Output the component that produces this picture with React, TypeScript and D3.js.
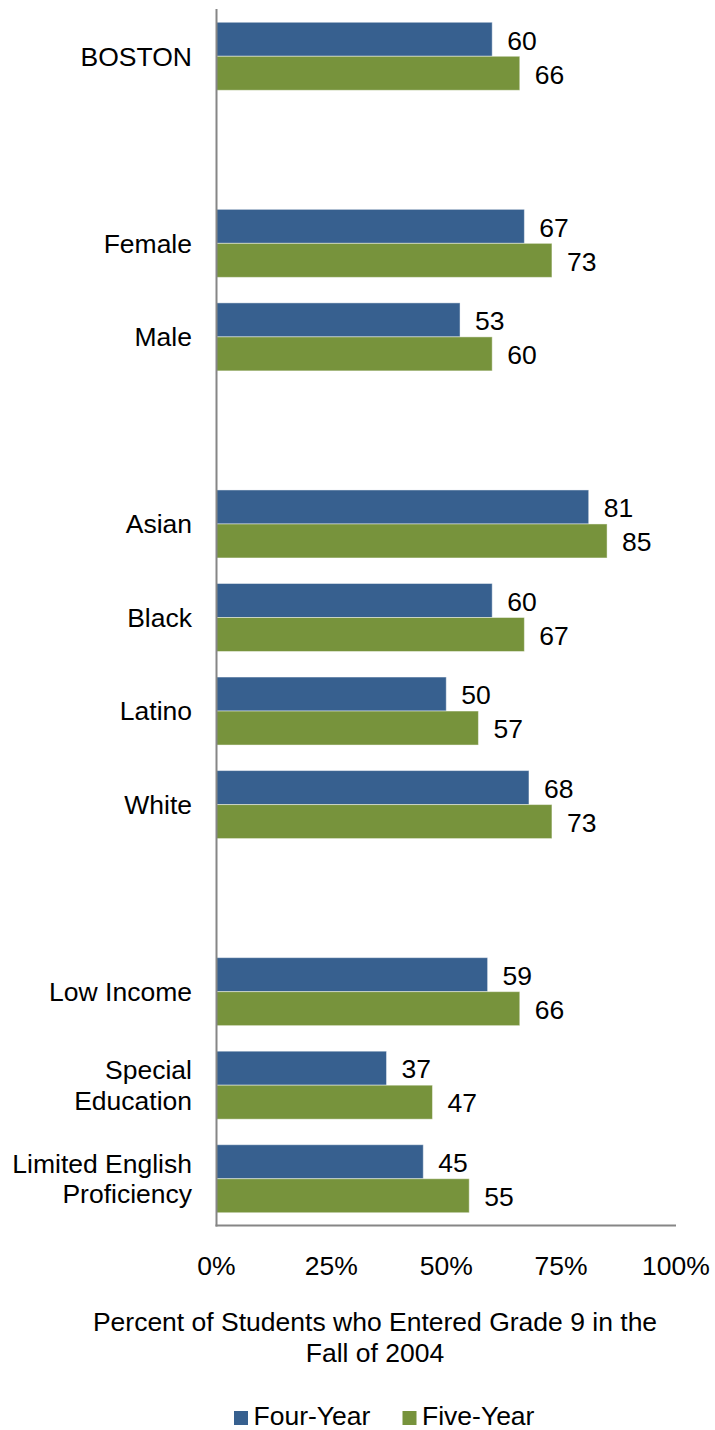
import React from "react";
import * as d3 from "d3";

const categories = [
  "BOSTON",
  "Female",
  "Male",
  "Asian",
  "Black",
  "Latino",
  "White",
  "Low Income",
  "Special\nEducation",
  "Limited English\nProficiency",
];
// group index for each category (blank slot between groups)
const groupOf = [0, 1, 1, 2, 2, 2, 2, 3, 3, 3];
const fourYear = [60, 67, 53, 81, 60, 50, 68, 59, 37, 45];
const fiveYear = [66, 73, 60, 85, 67, 57, 73, 66, 47, 55];
const seriesNames = ["Four-Year", "Five-Year"];
const seriesColors = ["#37608f", "#77933c"];
const xTicks = [0, 25, 50, 75, 100];
const axisTitle = ["Percent of Students who Entered Grade 9 in the", "Fall of 2004"];

const W = 715;
const H = 1430;
const FONT = "'Liberation Sans', Arial, Helvetica, sans-serif";
const FS = 26.5;

export default function App() {
  const left = 216.5;
  const right = 676;
  const top = 9.5;
  const bottom = 1225.5;

  const slots = categories.map((_, i) => i + groupOf[i]);
  const nSlots = d3.max(slots)! + 1;

  const x = d3.scaleLinear().domain([0, 100]).range([left, right]);
  const y = d3
    .scaleBand<number>()
    .domain(d3.range(nSlots))
    .range([top, bottom])
    .paddingInner(0)
    .paddingOuter(0);
  const bw = y.bandwidth();
  const barH = 34;
  const sub = d3
    .scaleBand<number>()
    .domain([0, 1])
    .range([bw / 2 - barH, bw / 2 + barH])
    .padding(0);

  const series = [fourYear, fiveYear];

  return (
    <div style={{ position: "absolute", left: 0, top: 0 }}>
      <svg width={W} height={H} style={{ display: "block", fontFamily: FONT }}>
        <rect x={0} y={0} width={W} height={H} fill="#ffffff" />
        {categories.map((cat, i) => {
          const y0 = y(slots[i])!;
          const lines = cat.split("\n");
          const lh = 30.5;
          const cy = y0 + bw / 2;
          return (
            <g key={cat}>
              {series.map((vals, s) => (
                <g key={s}>
                  <rect
                    x={x(0)}
                    y={y0 + sub(s)!}
                    width={x(vals[i]) - x(0)}
                    height={sub.bandwidth()}
                    fill={seriesColors[s]}
                    stroke="#ffffff"
                    strokeOpacity={0.45}
                    strokeWidth={1}
                  />
                  <text
                    x={x(vals[i]) + 15}
                    y={y0 + sub(s)! + sub.bandwidth() / 2 + 1}
                    dy="0.35em"
                    fontSize={FS}
                    fill="#000"
                  >
                    {vals[i]}
                  </text>
                </g>
              ))}
              <text textAnchor="end" fontSize={FS} fill="#000">
                {lines.map((ln, k) => (
                  <tspan
                    key={k}
                    x={192}
                    y={cy + (k - (lines.length - 1) / 2) * lh}
                    dy="0.35em"
                  >
                    {ln}
                  </tspan>
                ))}
              </text>
            </g>
          );
        })}
        {/* axes */}
        <line x1={left} x2={left} y1={top - 0.5} y2={bottom + 1} stroke="#868686" strokeWidth={2} />
        <line x1={left - 1} x2={right} y1={bottom} y2={bottom} stroke="#868686" strokeWidth={2} />
        {xTicks.map((t) => (
          <text key={t} x={x(t)} y={1275} textAnchor="middle" fontSize={FS} fill="#000">
            {t + "%"}
          </text>
        ))}
        {axisTitle.map((ln, k) => (
          <text key={k} x={375} y={1331 + k * 31} textAnchor="middle" fontSize={FS} fill="#000">
            {ln}
          </text>
        ))}
        {/* legend */}
        {(() => {
          const items = [
            { x: 234, tx: 253.5 },
            { x: 402.5, tx: 422 },
          ];
          return seriesNames.map((n, s) => (
            <g key={n}>
              <rect x={items[s].x} y={1411} width={14} height={14} fill={seriesColors[s]} />
              <text x={items[s].tx} y={1424.5} fontSize={FS} fill="#000">
                {n}
              </text>
            </g>
          ));
        })()}
      </svg>
    </div>
  );
}
